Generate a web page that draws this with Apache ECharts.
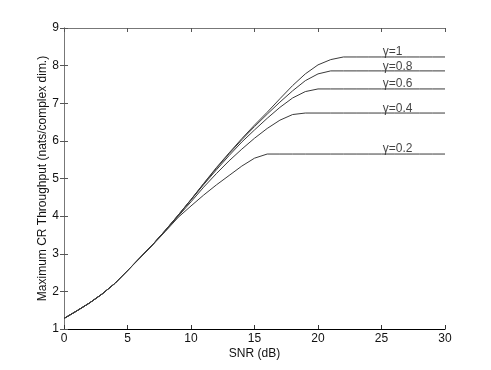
<!DOCTYPE html>
<html>
<head>
<meta charset="utf-8">
<script src="https://cdn.jsdelivr.net/npm/echarts@6/dist/echarts.min.js"></script>
<style>
  html, body { margin: 0; padding: 0; background: #fff; }
  #chart { width: 491px; height: 370px; }
</style>
</head>
<body>
<div id="chart"></div>
<script>
// SNR in dB
const snr = [0,1,2,3,4,5,6,7,8,9,10,11,12,13,14,15,16,17,18,19,20,21,22,23,24,25,26,27,28,29,30];
// Maximum CR throughput for each gamma
const gamma1  = [1.28,1.48,1.69,1.93,2.21,2.55,2.90,3.25,3.63,4.03,4.44,4.87,5.29,5.68,6.06,6.42,6.76,7.12,7.47,7.78,8.02,8.16,8.23,8.23,8.23,8.23,8.23,8.23,8.23,8.23,8.23];
const gamma08 = [1.28,1.48,1.69,1.93,2.21,2.55,2.90,3.25,3.63,4.03,4.44,4.86,5.27,5.66,6.03,6.38,6.71,7.03,7.33,7.60,7.78,7.86,7.86,7.86,7.86,7.86,7.86,7.86,7.86,7.86,7.86];
const gamma06 = [1.28,1.48,1.69,1.93,2.21,2.55,2.90,3.25,3.63,4.02,4.43,4.84,5.23,5.61,5.97,6.29,6.60,6.89,7.14,7.31,7.38,7.38,7.38,7.38,7.38,7.38,7.38,7.38,7.38,7.38,7.38];
const gamma04 = [1.28,1.48,1.69,1.93,2.21,2.55,2.90,3.25,3.62,4.00,4.38,4.77,5.13,5.47,5.78,6.07,6.33,6.55,6.70,6.74,6.74,6.74,6.74,6.74,6.74,6.74,6.74,6.74,6.74,6.74,6.74];
const gamma02 = [1.28,1.48,1.69,1.93,2.21,2.55,2.89,3.24,3.60,3.97,4.27,4.56,4.83,5.08,5.33,5.54,5.65,5.65,5.65,5.65,5.65,5.65,5.65,5.65,5.65,5.65,5.65,5.65,5.65,5.65,5.65];
const curveLabels = ['\u03b3=1','\u03b3=0.8','\u03b3=0.6','\u03b3=0.4','\u03b3=0.2'];
const labelX = 25.1;
const labelY = [8.36, 7.97, 7.52, 6.86, 5.79];
const xTicks = [0,5,10,15,20,25,30];
const yTicks = [1,2,3,4,5,6,7,8,9];

const curves = [gamma1, gamma08, gamma06, gamma04, gamma02];
const font = 'Liberation Sans, Arial, Helvetica, sans-serif';

const chart = echarts.init(document.getElementById('chart'), null, {renderer: 'canvas'});

const lineSeries = curves.map((ys, i) => ({
  type: 'line',
  data: snr.map((x, j) => [x, ys[j]]),
  showSymbol: false,
  symbol: 'none',
  smooth: false,
  lineStyle: { color: '#3a3a3a', width: 1 },
  xAxisIndex: 0, yAxisIndex: 0,
  silent: true,
  animation: false,
  z: 5
}));

const labelSeries = {
  type: 'scatter',
  data: curveLabels.map((t, i) => ({ value: [labelX, labelY[i]], name: t })),
  symbolSize: 0,
  label: {
    show: true,
    position: 'right',
    distance: 0,
    formatter: p => p.name,
    color: '#111',
    fontFamily: font,
    fontSize: 12
  },
  silent: true,
  animation: false
};

chart.setOption({
  animation: false,
  backgroundColor: '#fff',
  grid: { left: 64, right: 46, top: 28, bottom: 41, containLabel: false },
  xAxis: [
    {
      type: 'value', min: 0, max: 30, interval: 5, position: 'bottom',
      name: 'SNR (dB)', nameLocation: 'middle', nameGap: 19, nameMoveOverlap: false,
      nameTextStyle: { color: '#111', fontFamily: font, fontSize: 12 },
      axisLine: { show: true, lineStyle: { color: '#000', width: 1.2 } },
      axisTick: { show: true, inside: true, length: 4, lineStyle: { color: '#333' } },
      axisLabel: { color: '#111', fontFamily: font, fontSize: 12, margin: 4 },
      splitLine: { show: false }
    },
    {
      type: 'value', min: 0, max: 30, interval: 5, position: 'top',
      axisLine: { show: true, lineStyle: { color: '#777', width: 1 } },
      axisTick: { show: true, inside: true, length: 4, lineStyle: { color: '#555' } },
      axisLabel: { show: false },
      splitLine: { show: false }
    }
  ],
  yAxis: [
    {
      type: 'value', min: 1, max: 9, interval: 1, position: 'left',
      name: 'Maximum CR Throughput (nats/complex dim.)', nameLocation: 'middle', nameGap: 15,
      nameMoveOverlap: false,
      nameRotate: 90,
      nameTextStyle: { color: '#111', fontFamily: font, fontSize: 12 },
      axisLine: { show: true, lineStyle: { color: '#777', width: 1 } },
      axisTick: { show: true, inside: true, length: 4, lineStyle: { color: '#555' } },
      axisLabel: { color: '#111', fontFamily: font, fontSize: 12, margin: 5 },
      splitLine: { show: false }
    },
    {
      type: 'value', min: 1, max: 9, interval: 1, position: 'right',
      axisLine: { show: true, lineStyle: { color: '#777', width: 1 } },
      axisTick: { show: true, inside: true, length: 4, lineStyle: { color: '#555' } },
      axisLabel: { show: false },
      splitLine: { show: false }
    }
  ],
  series: [...lineSeries, labelSeries]
});
</script>
</body>
</html>
